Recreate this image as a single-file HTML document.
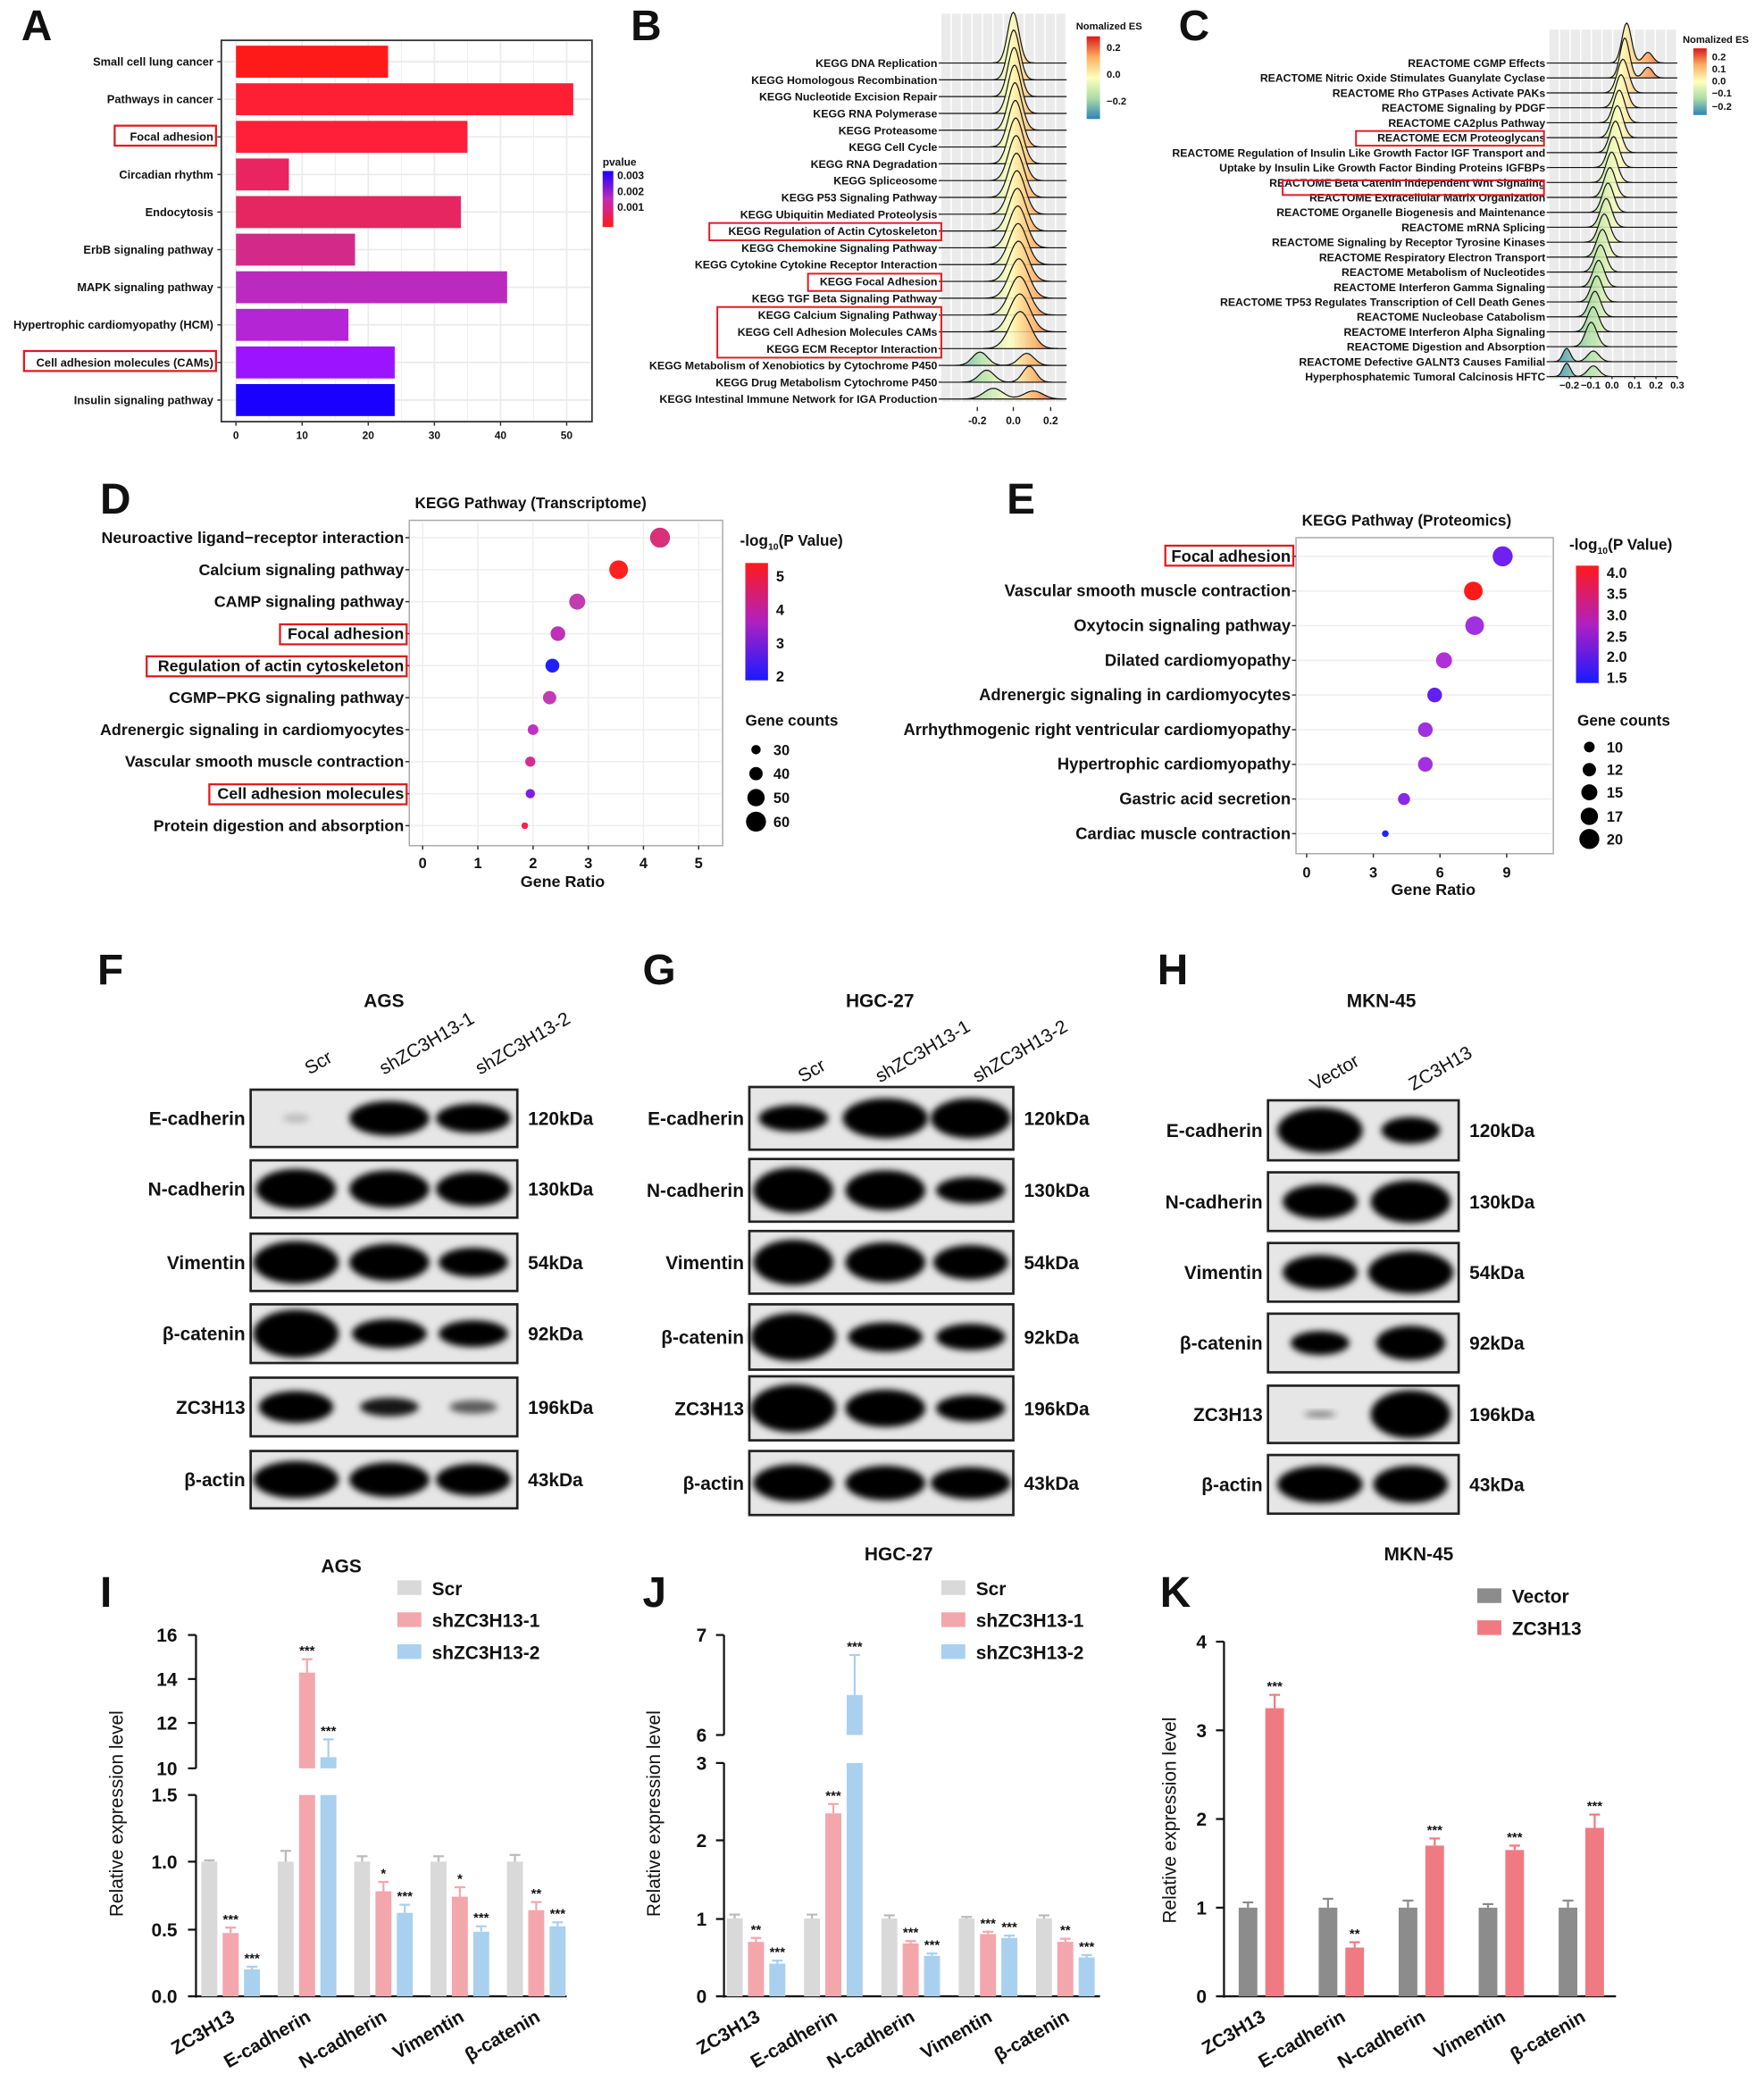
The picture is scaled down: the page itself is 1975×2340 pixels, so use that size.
<!DOCTYPE html>
<html><head><meta charset="utf-8">
<style>
html,body{margin:0;padding:0;background:#fff;}
svg{display:block;font-family:"Liberation Sans",Arial,sans-serif;}
</style></head>
<body>
<svg id="s" xmlns="http://www.w3.org/2000/svg" width="1975" height="2340" viewBox="0 0 1323 1567">
<defs>
<linearGradient id="pv" x1="0" y1="0" x2="0" y2="1"><stop offset="0" stop-color="#1a00ff"/><stop offset="0.5" stop-color="#c02ab8"/><stop offset="1" stop-color="#ff1a1a"/></linearGradient>
<linearGradient id="es" x1="0" y1="0" x2="0" y2="1"><stop offset="0" stop-color="#d7191c"/><stop offset="0.25" stop-color="#fdae61"/><stop offset="0.5" stop-color="#ffffbf"/><stop offset="0.75" stop-color="#abdda4"/><stop offset="1" stop-color="#2b83ba"/></linearGradient>
<linearGradient id="rg" x1="0" y1="0" x2="1" y2="0"><stop offset="0" stop-color="#2b83ba"/><stop offset="0.3" stop-color="#abdda4"/><stop offset="0.55" stop-color="#ffffbf"/><stop offset="0.75" stop-color="#fdae61"/><stop offset="1" stop-color="#d7191c"/></linearGradient>
<linearGradient id="lp" x1="0" y1="0" x2="0" y2="1"><stop offset="0" stop-color="#ff1a1a"/><stop offset="0.5" stop-color="#b020c0"/><stop offset="1" stop-color="#1a1aff"/></linearGradient>
<filter id="bl" x="-30%" y="-60%" width="160%" height="220%"><feGaussianBlur stdDeviation="2.5"/></filter>
</defs>
<g id="g"></g>
</svg>
<script>
var G=document.getElementById('g'),out=[];
function T(x,y,s,o){o=o||{};out.push('<text x="'+x+'" y="'+y+'" font-size="'+(o.fs||9)+'" font-weight="'+(o.fw||'bold')+'" text-anchor="'+(o.a||'start')+'" fill="'+(o.c||'#111')+'"'+(o.r?' transform="rotate('+o.r+' '+x+' '+y+')"':'')+'>'+s+'</text>');}
function R(x,y,w,h,f,st,sw){out.push('<rect x="'+x+'" y="'+y+'" width="'+w+'" height="'+h+'" fill="'+(f||'none')+'"'+(st?' stroke="'+st+'" stroke-width="'+(sw||1)+'"':'')+'/>');}
function L(x1,y1,x2,y2,c,w){out.push('<line x1="'+x1+'" y1="'+y1+'" x2="'+x2+'" y2="'+y2+'" stroke="'+(c||'#111')+'" stroke-width="'+(w||1)+'"/>');}
function C(x,y,r,f){out.push('<circle cx="'+x+'" cy="'+y+'" r="'+r+'" fill="'+f+'"/>');}
function letter(x,y,s){T(x,y,s,{fs:32});}
// ---------- A ----------
letter(16,30,'A');
R(166,30,278,286,'#fff','#333',1.2);
for(var k=0;k<=10;k++){var gx=177+24.8*k;L(gx,31,gx,315,'#ebebeb',k%2?0.6:1.2);}
var Aa=[['Small cell lung cancer',23,'#ff1a1a'],['Pathways in cancer',51,'#ff1f35'],['Focal adhesion',35,'#ff1f38'],['Circadian rhythm',8,'#e82560'],['Endocytosis',34,'#e52660'],['ErbB signaling pathway',18,'#d32a8a'],['MAPK signaling pathway',41,'#bb2abf'],['Hypertrophic cardiomyopathy (HCM)',17,'#b425d6'],['Cell adhesion molecules (CAMs)',24,'#9c14ff'],['Insulin signaling pathway',24,'#1a00ff']];
Aa.forEach(function(d,i){var y=46+28.2*i;L(167,y,443,y,'#ebebeb',1.2);R(177,y-12,d[1]*4.96,24,d[2]);T(160,y+3,d[0],{a:'end',fs:8.6});L(163,y,166,y,'#333');});
R(86,94,76,15,'none','#e0191f',1.5);R(18,263,144,15,'none','#e0191f',1.5);
for(var k=0;k<=5;k++){var x=177+49.6*k;L(x,316,x,319,'#333');T(x,329,10*k,{a:'middle',fs:8});}
T(452,124,'pvalue',{fs:8});R(452,128,8,42,'url(#pv)');
T(463,134,'0.003',{fs:8});T(463,146,'0.002',{fs:8});T(463,158,'0.001',{fs:8});
// ---------- ridge helper ----------
function ridges(x0,x1,ytop,labels,y0,dy,cx,sc,peaks,fs){
 for(var k=0;k<12;k++){R(x0+k*(x1-x0)/12,ytop,(x1-x0)/12-1,y0+dy*(labels.length-1)-ytop+2,'#ebebeb');}
 labels.forEach(function(s,i){var y=y0+dy*i;T(x0-3,y+3,s,{a:'end',fs:fs});L(x0-2,y,x0,y,'#333');});
 for(var i=0;i<labels.length;i++){var y=y0+dy*i,p=peaks[i],d='M'+x0+' '+y;
  for(var x=x0;x<=x1;x+=1){var v=0;p.forEach(function(q){v+=q[1]*Math.exp(-Math.pow((x-q[0])/q[2],2));});d+=' L'+x+' '+(y-v).toFixed(1);}
  d+=' L'+x1+' '+y+' Z';out.push('<path d="'+d+'" fill="url(#rg)" fill-opacity="0.85" stroke="#111" stroke-width="0.8"/>');}
}
// ---------- B ----------
letter(473,30,'B');
var Bl=['KEGG DNA Replication','KEGG Homologous Recombination','KEGG Nucleotide Excision Repair','KEGG RNA Polymerase','KEGG Proteasome','KEGG Cell Cycle','KEGG RNA Degradation','KEGG Spliceosome','KEGG P53 Signaling Pathway','KEGG Ubiquitin Mediated Proteolysis','KEGG Regulation of Actin Cytoskeleton','KEGG Chemokine Signaling Pathway','KEGG Cytokine Cytokine Receptor Interaction','KEGG Focal Adhesion','KEGG TGF Beta Signaling Pathway','KEGG Calcium Signaling Pathway','KEGG Cell Adhesion Molecules CAMs','KEGG ECM Receptor Interaction','KEGG Metabolism of Xenobiotics by Cytochrome P450','KEGG Drug Metabolism Cytochrome P450','KEGG Intestinal Immune Network for IGA Production'];
var Bp=Bl.map(function(s,i){if(i<18)return [[760+i*0.3,38-i*0.6,6+i*0.3]];if(i==18)return [[735,10,8],[770,9,8]];if(i==19)return [[740,9,8],[772,12,7]];return [[745,8,10],[775,6,10]];});
ridges(706,800,10,Bl,47,12.6,760,1,Bp,8.3);
[[532,167,174,13],[606,205,100,13],[538,230,168,38]].forEach(function(r){R(r[0],r[1],r[2],r[3],'none','#e0191f',1.3);});
[['-0.2',733],['0.0',760],['0.2',788]].forEach(function(t){L(t[1],305,t[1],308,'#333');T(t[1],318,t[0],{a:'middle',fs:8});});
T(807,22,'Nomalized ES',{fs:7.5});R(815,27,10,62,'url(#es)');
T(830,38,'0.2',{fs:7.5});T(830,58,'0.0',{fs:7.5});T(830,78,'−0.2',{fs:7.5});
// ---------- C ----------
letter(884,30,'C');
var Cl=['REACTOME CGMP Effects','REACTOME Nitric Oxide Stimulates Guanylate Cyclase','REACTOME Rho GTPases Activate PAKs','REACTOME Signaling by PDGF','REACTOME CA2plus Pathway','REACTOME ECM Proteoglycans','REACTOME Regulation of Insulin Like Growth Factor IGF Transport and','Uptake by Insulin Like Growth Factor Binding Proteins IGFBPs','REACTOME Beta Catenin independent Wnt Signaling','REACTOME Extracellular Matrix Organization','REACTOME Organelle Biogenesis and Maintenance','REACTOME mRNA Splicing','REACTOME Signaling by Receptor Tyrosine Kinases','REACTOME Respiratory Electron Transport','REACTOME Metabolism of Nucleotides','REACTOME Interferon Gamma Signaling','REACTOME TP53 Regulates Transcription of Cell Death Genes','REACTOME Nucleobase Catabolism','REACTOME Interferon Alpha Signaling','REACTOME Digestion and Absorption','REACTOME Defective GALNT3 Causes Familial','Hyperphosphatemic Tumoral Calcinosis HFTC'];
var Cp=Cl.map(function(s,i){var c=1220-i*1.4;if(i<2)return [[c,30,5],[1236,8,5]];if(i>19)return [[1175,10,4],[1195,8,6]];return [[c,26-i*0.4,6]];});
ridges(1162,1258,22,Cl,47,11.2,1220,1,Cp,8.2);
R(1017,98,141,11,'none','#e0191f',1.3);R(962,135,196,11,'none','#e0191f',1.3);
[['−0.2',1177],['−0.1',1193],['0.0',1209],['0.1',1226],['0.2',1242],['0.3',1258]].forEach(function(t){L(t[1],282,t[1],284,'#333');T(t[1],291,t[0],{a:'middle',fs:7.5});});
T(1262,32,'Nomalized ES',{fs:7.5});R(1270,36,10,50,'url(#es)');
[['0.2',45],['0.1',54],['0.0',63],['−0.1',72],['−0.2',82]].forEach(function(t){T(1284,t[1],t[0],{fs:7.5});});
// ---------- D ----------
letter(75,385,'D');
T(398,381,'KEGG Pathway (Transcriptome)',{a:'middle',fs:11.5});
R(307,390,235,244,'#fff','#aaa',1);
for(var k=0;k<=5;k++){var x=317+41.4*k;L(x,391,x,633,'#eee',1);}
var Dd=[['Neuroactive ligand−receptor interaction',4.3,7.5,'#d8307a'],['Calcium signaling pathway',3.55,7,'#ff2020'],['CAMP signaling pathway',2.8,6,'#c03cb0'],['Focal adhesion',2.45,5.5,'#c030b8'],['Regulation of actin cytoskeleton',2.35,5.2,'#2020ff'],['CGMP−PKG signaling pathway',2.3,5,'#c03cb0'],['Adrenergic signaling in cardiomyocytes',2.0,4,'#c030c0'],['Vascular smooth muscle contraction',1.95,3.8,'#d03090'],['Cell adhesion molecules',1.95,3.5,'#8020e0'],['Protein digestion and absorption',1.85,2.5,'#ff2050']];
Dd.forEach(function(d,i){var y=403+24*i;L(308,y,541,y,'#eee',1);L(304,y,307,y,'#333');T(303,y+4,d[0],{a:'end',fs:12});C(317+41.4*d[1],y,d[2],d[3]);});
R(210,468,95,15,'none','#e0191f',1.5);R(110,492,195,15,'none','#e0191f',1.5);R(157,588,148,15,'none','#e0191f',1.5);
for(var k=0;k<=5;k++){var x=317+41.4*k;L(x,634,x,637,'#333');T(x,651,k,{a:'middle',fs:11});}
T(422,665,'Gene Ratio',{a:'middle',fs:12});
T(555,409,'-log<tspan font-size="7" dy="3">10</tspan><tspan dy="-3">(P Value)</tspan>',{fs:11.5});
R(559,422,17,88,'url(#lp)');[['5',432],['4',457],['3',482],['2',507]].forEach(function(t){T(582,t[1]+4,t[0],{fs:11});});
T(559,544,'Gene counts',{fs:11.5});[[30,562,3.5],[40,580,5],[50,598,6.5],[60,616,7.5]].forEach(function(t){C(567,t[1],t[2],'#000');T(580,t[1]+4,t[0],{fs:11});});
// ---------- E ----------
letter(755,385,'E');
T(1055,394,'KEGG Pathway (Proteomics)',{a:'middle',fs:11.5});
R(972,403,193,237,'#fff','#aaa',1);
var Ed=[['Focal adhesion',1127,7.5,'#7020f0'],['Vascular smooth muscle contraction',1105,7,'#ff1a1a'],['Oxytocin signaling pathway',1106,7,'#a030e0'],['Dilated cardiomyopathy',1083,6,'#b030d8'],['Adrenergic signaling in cardiomyocytes',1076,5.5,'#6020f0'],['Arrhythmogenic right ventricular cardiomyopathy',1069,5.5,'#a030e0'],['Hypertrophic cardiomyopathy',1069,5.5,'#a030e0'],['Gastric acid secretion',1053,4.5,'#8a28e8'],['Cardiac muscle contraction',1039,2.5,'#2020ff']];
Ed.forEach(function(d,i){var y=417+26*i;L(973,y,1164,y,'#eee',1);L(969,y,972,y,'#333');T(968,y+4,d[0],{a:'end',fs:12.3});C(d[1],y,d[2],d[3]);});
R(874,409,96,15,'none','#e0191f',1.5);
[[0,980],[3,1030],[6,1080],[9,1130]].forEach(function(t){L(t[1],640,t[1],643,'#333');T(t[1],658,t[0],{a:'middle',fs:11});});
T(1075,671,'Gene Ratio',{a:'middle',fs:12});
T(1177,412,'-log<tspan font-size="7" dy="3">10</tspan><tspan dy="-3">(P Value)</tspan>',{fs:11.5});
R(1182,424,17,88,'url(#lp)');[['4.0',429],['3.5',445],['3.0',461],['2.5',477],['2.0',492],['1.5',508]].forEach(function(t){T(1205,t[1]+4,t[0],{fs:11});});
T(1183,544,'Gene counts',{fs:11.5});[[10,560,4],[12,577,5],[15,594,6],[17,612,6.5],[20,629,7.5]].forEach(function(t){C(1192,t[1],t[2],'#000');T(1205,t[1]+4,t[0],{fs:11});});
// ---------- Western blots ----------
function blot(x0,x1,rows,lanes,labels,kda,bands){
 rows.forEach(function(r,i){var y=(r[0]+r[1])/2,h=r[1]-r[0];
  R(x0,r[0],x1-x0,h,'#e6e6e6','#222',1.8);
  lanes.forEach(function(lx,j){var b=bands[i][j];if(!b)return;out.push('<ellipse cx="'+lx+'" cy="'+y+'" rx="'+b[0]+'" ry="'+b[1]+'" fill="#000" fill-opacity="'+b[2]+'" filter="url(#bl)"/>');});
  T(x0-4,y+5,labels[i],{a:'end',fs:14});T(x1+8,y+5,kda[i],{fs:14});});
}
var lab=['E-cadherin','N-cadherin','Vimentin','β-catenin','ZC3H13','β-actin'],kd=['120kDa','130kDa','54kDa','92kDa','196kDa','43kDa'];
letter(73,738,'F');T(288,755,'AGS',{a:'middle',fs:14});
T(232,806,'Scr',{fs:14,fw:'normal',r:-30});T(288,806,'shZC3H13-1',{fs:14,fw:'normal',r:-30});T(360,806,'shZC3H13-2',{fs:14,fw:'normal',r:-30});
blot(188,388,[[817,860],[870,913],[925,968],[978,1022],[1033,1077],[1088,1131]],[222,292,355],lab,kd,
[[[10,3,0.2],[30,13,1],[28,11,1]],[[30,15,1],[30,14,1],[28,13,1]],[[32,16,1],[30,14,1],[26,11,1]],[[32,18,1],[28,11,1],[26,10,1]],[[28,12,1],[22,7,0.9],[18,5,0.6]],[[32,14,1],[30,13,1],[28,12,1]]]);
letter(482,738,'G');T(660,755,'HGC-27',{a:'middle',fs:14});
T(602,812,'Scr',{fs:14,fw:'normal',r:-30});T(660,812,'shZC3H13-1',{fs:14,fw:'normal',r:-30});T(733,812,'shZC3H13-2',{fs:14,fw:'normal',r:-30});
blot(562,760,[[815,862],[869,916],[923,970],[978,1027],[1032,1080],[1088,1136]],[595,664,728],lab,kd,
[[[26,10,1],[32,15,1],[30,15,1]],[[30,17,1],[30,15,1],[26,10,1]],[[30,17,1],[30,15,1],[28,13,1]],[[32,18,1],[28,11,1],[26,10,1]],[[32,18,1],[30,14,1],[26,10,1]],[[30,14,1],[30,13,1],[30,12,1]]]);
letter(868,738,'H');T(1036,755,'MKN-45',{a:'middle',fs:14});
T(986,818,'Vector',{fs:14,fw:'normal',r:-30});T(1060,818,'ZC3H13',{fs:14,fw:'normal',r:-30});
blot(951,1094,[[825,870],[879,923],[932,976],[985,1029],[1039,1082],[1091,1135]],[990,1058],lab,kd,
[[[32,17,1],[22,10,1]],[[28,13,1],[30,16,1]],[[28,13,1],[32,16,1]],[[22,9,1],[26,13,1]],[[12,2,0.5],[30,18,1]],[[32,14,1],[28,14,1]]]);
// ---------- bar charts ----------
var xl=['ZC3H13','E-cadherin','N-cadherin','Vimentin','β-catenin'];
function xlabels(cs){cs.forEach(function(c,i){T(c+4,1515,xl[i],{a:'end',fs:14,r:-30});});}
function bar(x,w,yv,y0,col,err,star){R(x-w/2,yv,w,y0-yv,col);L(x,yv-err,x,yv,col==='#d9d9d9'?'#bbb':col,1.5);L(x-4,yv-err,x+4,yv-err,col==='#d9d9d9'?'#bbb':col,1.5);if(star)T(x,yv-err-3,star,{a:'middle',fs:10});}
function legend(x,y,items){items.forEach(function(it,i){R(x,y+i*24-6,18,11,it[1]);T(x+26,y+i*24+5,it[0],{fs:14});});}
// I
letter(75,1205,'I');T(256,1179,'AGS',{a:'middle',fs:14});
legend(298,1191,[['Scr','#d9d9d9'],['shZC3H13-1','#f4a6ad'],['shZC3H13-2','#a9d0ef']]);
T(92,1360,'Relative expression level',{a:'middle',fs:14,fw:'normal',r:-90});
L(147,1226,147,1326,'#111',1.5);L(147,1346,147,1498,'#111',1.5);L(147,1497,425,1497,'#111',1.5);
[['0.0',1497],['0.5',1447],['1.0',1396],['1.5',1346]].forEach(function(t){L(141,t[1],147,t[1],'#111',1.5);T(133,t[1]+5,t[0],{a:'end',fs:14});});
[['10',1326],['12',1292],['14',1259],['16',1226]].forEach(function(t){L(141,t[1],147,t[1],'#111',1.5);T(133,t[1]+5,t[0],{a:'end',fs:14});});
function yI(v){return v<=1.5?1497-101*v:1326-16.7*(v-10);}
var Iv=[[1,0.47,0.2],[1,14.3,10.5],[1,0.78,0.62],[1,0.74,0.48],[1,0.64,0.52]],Is=[['','***','***'],['','***','***'],['','*','***'],['','*','***'],['','**','***']],Ie=[[0.01,0.04,0.02],[0.08,0.6,0.8],[0.04,0.07,0.06],[0.04,0.07,0.04],[0.05,0.06,0.03]];
var cI=['#d9d9d9','#f4a6ad','#a9d0ef'];
Iv.forEach(function(g,i){var cx=173+57.3*i;g.forEach(function(v,j){var x=cx+(j-1)*16;var yv=yI(v);
 if(v>1.5){R(x-6,1346,12,151,cI[j]);R(x-6,yv,12,1326-yv,cI[j]);var e=Ie[i][j]*16.7;L(x,yv-e,x,yv,cI[j],1.5);L(x-4,yv-e,x+4,yv-e,cI[j],1.5);T(x,yv-e-3,Is[i][j],{a:'middle',fs:10});}
 else{var e=Ie[i][j]*101;bar(x,12,yv,1497,cI[j],e,Is[i][j]);}});});
xlabels([173,230,287,345,402]);
// J
letter(482,1205,'J');T(674,1170,'HGC-27',{a:'middle',fs:14});
legend(706,1191,[['Scr','#d9d9d9'],['shZC3H13-1','#f4a6ad'],['shZC3H13-2','#a9d0ef']]);
T(495,1360,'Relative expression level',{a:'middle',fs:14,fw:'normal',r:-90});
L(543,1226,543,1301,'#111',1.5);L(543,1322,543,1498,'#111',1.5);L(543,1497,825,1497,'#111',1.5);
[['0',1497],['1',1439],['2',1380],['3',1322],['6',1301],['7',1226]].forEach(function(t){L(537,t[1],543,t[1],'#111',1.5);T(530,t[1]+5,t[0],{a:'end',fs:14});});
function yJ(v){return v<=3?1497-58.4*v:1301-75*(v-6);}
var Jv=[[1,0.7,0.42],[1,2.35,6.4],[1,0.68,0.52],[1,0.8,0.75],[1,0.7,0.5]],Js=[['','**','***'],['','***','***'],['','***','***'],['','***','***'],['','**','***']],Je=[[0.05,0.05,0.04],[0.05,0.12,0.4],[0.04,0.03,0.03],[0.02,0.03,0.03],[0.04,0.04,0.03]];
Jv.forEach(function(g,i){var cx=567+58*i;g.forEach(function(v,j){var x=cx+(j-1)*16;var yv=yJ(v);
 if(v>3){R(x-6,1322,12,175,cI[j]);R(x-6,yv,12,1301-yv,cI[j]);var e=Je[i][j]*75;L(x,yv-e,x,yv,cI[j],1.5);L(x-4,yv-e,x+4,yv-e,cI[j],1.5);T(x,yv-e-3,Js[i][j],{a:'middle',fs:10});}
 else{bar(x,12,yv,1497,cI[j],Je[i][j]*58.4,Js[i][j]);}});});
xlabels([567,625,683,741,799]);
// K
letter(870,1205,'K');T(1064,1170,'MKN-45',{a:'middle',fs:14});
legend(1108,1197,[['Vector','#8c8c8c'],['ZC3H13','#f07a82']]);
T(882,1365,'Relative expression level',{a:'middle',fs:14,fw:'normal',r:-90});
L(918,1231,918,1498,'#111',1.5);L(918,1497,1212,1497,'#111',1.5);
for(var k=0;k<=4;k++){var y=1497-66.5*k;L(912,y,918,y,'#111',1.5);T(905,y+5,k,{a:'end',fs:14});}
var Kv=[[1,3.25],[1,0.55],[1,1.7],[1,1.65],[1,1.9]],Ks=['***','**','***','***','***'],Ke=[[0.06,0.15],[0.1,0.06],[0.08,0.08],[0.04,0.05],[0.08,0.15]];
Kv.forEach(function(g,i){var cx=946+60*i;bar(cx-10,14,1497-66.5*g[0],1497,'#8c8c8c',Ke[i][0]*66.5,'');bar(cx+10,14,1497-66.5*g[1],1497,'#f07a82',Ke[i][1]*66.5,Ks[i]);});
xlabels([946,1006,1066,1126,1186]);
G.innerHTML=out.join('');
</script>
</body></html>
